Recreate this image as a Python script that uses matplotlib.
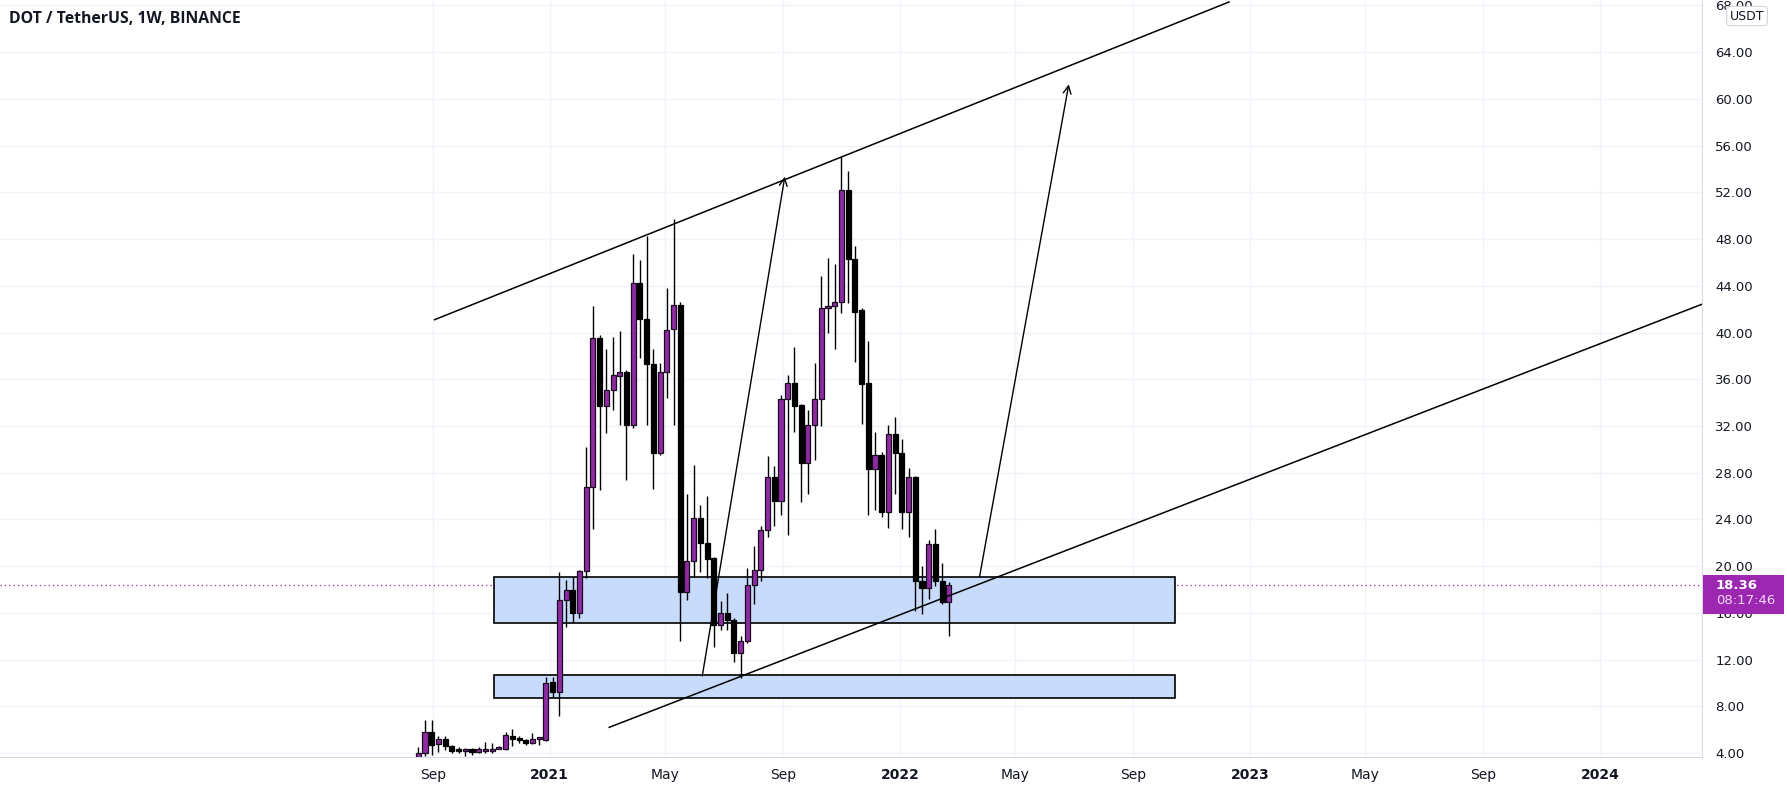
import numpy as np
import pandas as pd
import matplotlib
matplotlib.use('Agg')
import matplotlib.pyplot as plt
import matplotlib.dates as mdates
from matplotlib.patches import Rectangle
from matplotlib.transforms import blended_transform_factory

# weekly candles, DOT/USDT (Binance), one bar per Monday
weeks = pd.date_range('2020-08-17', periods=80, freq='7D')

opens = [3.0, 4.0, 5.8, 4.75, 5.2, 4.6, 4.2, 4.18, 4.32, 4.05,
         4.15, 4.15, 4.37, 4.32, 5.48, 5.15, 5.11, 4.83, 5.2, 5.11,
         10.1, 9.25, 17.1, 18.0, 16.0, 19.6, 26.8, 39.5, 33.7, 35.1,
         36.3, 36.6, 32.1, 44.2, 41.2, 37.3, 29.7, 36.6, 40.3, 42.4,
         17.8, 20.4, 24.1, 22.0, 20.7, 15.0, 16.0, 15.4, 12.6, 13.6,
         18.4, 19.7, 23.1, 27.6, 25.6, 34.35, 35.7, 33.8, 28.8, 32.1,
         34.35, 42.1, 42.3, 42.6, 52.2, 46.3, 41.9, 35.65, 28.3, 29.5,
         24.65, 31.3, 29.65, 24.6, 27.6, 18.75, 18.1, 21.9, 18.7, 16.95]
highs = [4.5, 6.8, 6.8, 5.5, 5.5, 4.7, 4.49, 4.44, 4.4, 4.49,
         4.97, 4.88, 4.6, 5.8, 6.03, 5.45, 5.2, 5.68, 5.4, 10.5,
         10.5, 19.5, 18.8, 19.1, 19.7, 30.2, 42.3, 39.8, 38.6, 39.6,
         40.1, 36.8, 46.7, 46.2, 48.3, 38.6, 37.4, 43.8, 49.7, 42.6,
         26.2, 28.7, 25.2, 26.0, 20.8, 17.0, 17.7, 15.6, 14.0, 19.8,
         21.7, 23.4, 29.4, 28.6, 34.65, 36.4, 38.8, 33.9, 33.4, 37.4,
         44.8, 46.4, 45.9, 55.05, 53.8, 47.4, 42.1, 39.3, 31.5, 29.8,
         32.1, 32.8, 30.85, 28.4, 27.7, 20.0, 22.2, 23.15, 20.3, 18.65]
lows = [2.9, 3.75, 3.8, 4.1, 4.3, 4.03, 3.98, 3.75, 3.85, 3.98,
        3.98, 3.98, 4.32, 4.3, 4.6, 4.83, 4.69, 4.78, 4.69, 5.05,
        8.8, 7.2, 14.75, 15.1, 15.6, 19.0, 23.2, 26.5, 31.4, 33.4,
        32.1, 27.4, 31.8, 37.8, 32.1, 26.6, 29.5, 34.4, 32.1, 13.6,
        17.1, 19.1, 19.5, 19.0, 13.1, 14.5, 14.5, 11.8, 10.45, 13.4,
        16.8, 18.7, 22.5, 23.4, 24.4, 22.7, 31.5, 25.5, 26.2, 29.1,
        32.0, 40.0, 38.6, 41.7, 42.5, 37.5, 32.2, 24.4, 24.8, 24.2,
        23.3, 26.2, 23.15, 22.5, 16.2, 15.9, 17.15, 18.3, 16.8, 14.0]
closes = [4.0, 5.8, 4.7, 5.2, 4.6, 4.2, 4.18, 4.22, 4.09, 4.32,
          4.37, 4.37, 4.42, 5.51, 5.2, 5.11, 4.83, 5.22, 5.22, 10.0,
          9.2, 17.1, 18.0, 16.0, 19.6, 26.8, 39.5, 33.7, 35.1, 36.4,
          36.6, 32.1, 44.2, 41.2, 37.3, 29.7, 36.6, 40.2, 42.4, 17.8,
          20.4, 24.1, 22.0, 20.6, 15.0, 16.0, 15.4, 12.6, 13.6, 18.4,
          19.7, 23.1, 27.6, 25.6, 34.35, 35.7, 33.7, 28.8, 32.1, 34.35,
          42.1, 42.3, 42.65, 52.2, 46.3, 41.8, 35.6, 28.3, 29.5, 24.65,
          31.3, 29.65, 24.6, 27.6, 18.75, 18.1, 21.9, 18.7, 16.95, 18.36]

# drawings on the chart: (date, price) pairs
upper_line = (['2020-09-03', '2022-12-10'], [41.1, 68.3])
lower_line = (['2021-03-04', '2024-05-01'], [6.2, 42.9])
arrows = [(('2021-06-09', 10.6), ('2021-09-03', 53.35)),
          (('2022-03-25', 19.1), ('2022-06-26', 61.25))]
zone_dates = ['2020-11-04', '2022-10-15']
zones = [(15.1, 19.05), (8.67, 10.65)]

price_ticks = list(range(4, 69, 4))
date_ticks = ['2020-09-01', '2021-01-01', '2021-05-01', '2021-09-01', '2022-01-01',
              '2022-05-01', '2022-09-01', '2023-01-01', '2023-05-01', '2023-09-01',
              '2024-01-01']
date_labels = ['Sep', '2021', 'May', 'Sep', '2022', 'May', 'Sep', '2023', 'May', 'Sep', '2024']

purple = '#8e2ba3'
text_col = '#131722'
grid_col = '#f0f3fa'

fig = plt.figure(figsize=(17.87, 7.92), dpi=100)
ax = fig.add_axes([0, 35 / 792, 1702 / 1787, 757 / 792])

x = mdates.date2num(weeks)
o = np.array(opens)
c = np.array(closes)
up = c >= o
bottoms = np.minimum(o, c)
heights = np.maximum(np.abs(c - o), 0.15)
body_w = 5.3

# wicks then bodies
ax.vlines(x, lows, highs, color='black', lw=1, zorder=3)
ax.bar(x[up], heights[up], bottom=bottoms[up], width=body_w,
       color=purple, edgecolor='#1a0a1f', lw=0.9, zorder=4)
ax.bar(x[~up], heights[~up], bottom=bottoms[~up], width=body_w,
       color='black', edgecolor='black', lw=0.9, zorder=4)

# support zones
z0, z1 = mdates.date2num(pd.to_datetime(zone_dates))
for lo, hi in zones:
    ax.add_patch(Rectangle((z0, lo), z1 - z0, hi - lo, facecolor='#c9dbfa',
                           edgecolor='black', lw=1.2, zorder=2))

# trend lines
for dates, prices in [upper_line, lower_line]:
    ax.plot(mdates.date2num(pd.to_datetime(dates)), prices, color='black', lw=1.1, zorder=5)

for (d0, p0), (d1, p1) in arrows:
    ax.annotate('', xy=(mdates.date2num(pd.Timestamp(d1)), p1),
                xytext=(mdates.date2num(pd.Timestamp(d0)), p0),
                arrowprops=dict(arrowstyle='->', color='black', lw=1.0,
                                mutation_scale=14, shrinkA=0, shrinkB=0),
                zorder=5)

# last price line
last = closes[-1]
ax.axhline(last, color=purple, lw=0.9, ls=(0, (1, 2.5)), zorder=1)

# axes look
ax.set_xlim(mdates.date2num(pd.Timestamp('2019-06-08')), mdates.date2num(pd.Timestamp('2024-04-16')))
ax.set_ylim(3.66, 68.47)
ax.set_xticks(mdates.date2num(pd.to_datetime(date_ticks)))
ax.set_xticklabels(date_labels)
ax.set_yticks(price_ticks)
ax.set_yticklabels([f'{p:.2f}' for p in price_ticks])
ax.yaxis.tick_right()
ax.tick_params(axis='y', length=0, pad=9.5, labelsize=9.5, labelcolor=text_col)
ax.tick_params(axis='x', length=0, pad=8, labelsize=10, labelcolor=text_col)
for lab in ax.get_xticklabels():
    if lab.get_text().isdigit():
        lab.set_fontweight('bold')
ax.grid(True, color=grid_col, lw=1)
ax.set_axisbelow(True)
for side in ['top', 'left']:
    ax.spines[side].set_visible(False)
ax.spines['right'].set_color('#d9dce3')
ax.spines['bottom'].set_color('#d9dce3')

# title
fig.text(9 / 1787, 1 - 19 / 792, 'DOT / TetherUS, 1W, BINANCE', fontsize=11.3,
         fontweight='bold', family='Open Sans', color=text_col, va='center', ha='left')

# currency tag
fig.text(1747 / 1787, 1 - 16 / 792, 'USDT', fontsize=9, color=text_col, ha='center', va='center',
         bbox=dict(boxstyle='round,pad=0.25', fc='white', ec='#d1d4dc', lw=0.8))

# last price label on the price scale
tr = blended_transform_factory(fig.transFigure, ax.transData)
fig.add_artist(Rectangle((1703 / 1787, last - 2.45), 81 / 1787, 3.3, transform=tr,
                         facecolor='#9c27b0', edgecolor='none', zorder=10, clip_on=False))
fig.text(1716 / 1787, last - 0.05, f'{last:.2f}', transform=tr, fontsize=9.5, fontweight='bold',
         color='white', va='center', ha='left', zorder=11)
fig.text(1716 / 1787, last - 1.3, '08:17:46', transform=tr, fontsize=9.5,
         color='#f3d9f7', va='center', ha='left', zorder=11)

fig.savefig('out.png', dpi=100, facecolor='white')
